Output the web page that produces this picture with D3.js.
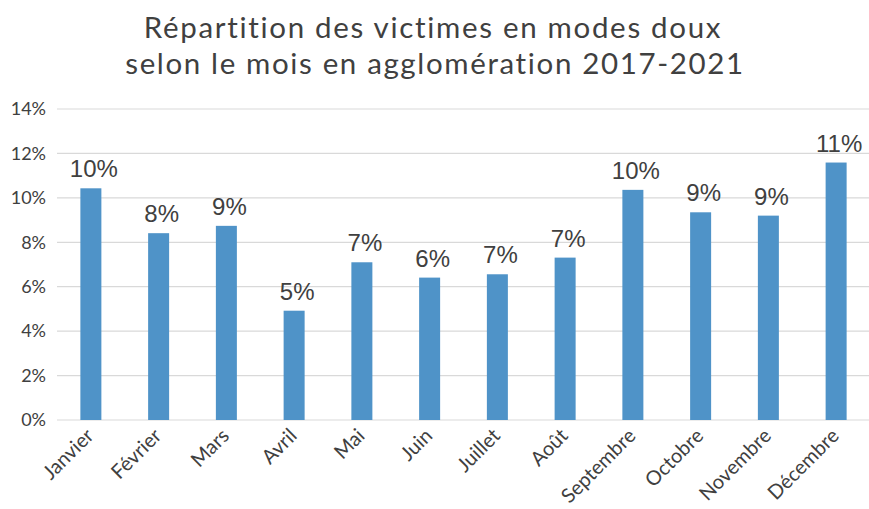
<!DOCTYPE html>
<html><head><meta charset="utf-8">
<script src="https://cdn.jsdelivr.net/npm/d3@7"></script>
<style>body{margin:0;background:#fff}svg{display:block}</style>
</head><body>
<svg id="chart" width="869" height="509"></svg>
<script>
const titleLines = ["Répartition des victimes en modes doux", "selon le mois en agglomération 2017-2021"];
const months = ["Janvier","Février","Mars","Avril","Mai","Juin","Juillet","Août","Septembre","Octobre","Novembre","Décembre"];
const shares = [0.1043,0.0841,0.0874,0.0492,0.0710,0.0641,0.0656,0.0731,0.1036,0.0935,0.0920,0.1159];
const valueLabels = ["10%","8%","9%","5%","7%","6%","7%","7%","10%","9%","9%","11%"];
const yTicks = [0,0.02,0.04,0.06,0.08,0.10,0.12,0.14];

const svg = d3.select("#chart");
const x = d3.scaleBand().domain(months).range([57,870]).paddingInner(0.69).paddingOuter(0.345);
const y = d3.scaleLinear().domain([0,0.14]).range([420,109]);

// title
const tfont = "Lato, 'Open Sans', sans-serif";
const targetW = [580, 620];
const baseY = [38, 74];
const centerX = [433, 435];
titleLines.forEach((t,i)=>{
  const el = svg.append("text").attr("x",centerX[i]).attr("y",baseY[i])
    .attr("text-anchor","middle").attr("font-family",tfont).attr("font-size",29.5)
    .attr("fill","#404040").text(t);
  const w = el.node().getComputedTextLength();
  const n = t.length;
  el.attr("letter-spacing", (targetW[i]-w)/n);
});

// gridlines
svg.append("g").selectAll("line").data(yTicks).join("line")
  .attr("x1",57).attr("x2",869).attr("y1",d=>y(d)).attr("y2",d=>y(d))
  .attr("stroke","#d9d9d9").attr("stroke-width",1.2);

// y axis
const yAxis = d3.axisLeft(y).tickValues(yTicks).tickFormat(d3.format(".0%")).tickSize(0).tickPadding(0);
const ya = svg.append("g").attr("transform","translate(46,0)").call(yAxis);
ya.select(".domain").remove();
ya.selectAll("text").attr("font-family",tfont).attr("font-size",18).attr("fill","#404040");

// bars
svg.append("g").selectAll("rect").data(months).join("rect")
  .attr("x",d=>x(d)).attr("width",x.bandwidth())
  .attr("y",(d,i)=>y(shares[i])).attr("height",(d,i)=>y(0)-y(shares[i]))
  .attr("fill","#4f93c8");

// value labels
svg.append("g").selectAll("text").data(months).join("text")
  .attr("x",d=>x(d)+x.bandwidth()/2+3).attr("y",(d,i)=>y(shares[i])-11)
  .attr("text-anchor","middle").attr("font-family","'Liberation Sans', Arial, sans-serif")
  .attr("font-size",24).attr("fill","#404040").text((d,i)=>valueLabels[i]);

// x axis labels
const xAxis = d3.axisBottom(x).tickSize(0).tickPadding(0);
const xa = svg.append("g").attr("transform","translate(0,437)").call(xAxis);
xa.select(".domain").remove();
xa.selectAll("text").attr("font-family",tfont).attr("font-size",20).attr("fill","#404040")
  .attr("text-anchor","end").attr("dy",0).attr("y",0)
  .attr("transform","translate(4,0) rotate(-45)");
</script>
</body></html>
